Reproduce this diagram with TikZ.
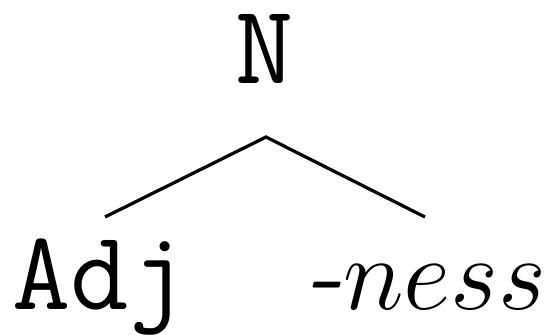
\documentclass[tikz,border=0pt]{standalone}
\begin{document}
\begin{tikzpicture}[x=0.2pt,y=-0.2pt,
  lbl/.style={inner sep=0pt, anchor=base, font=\fontsize{22.6}{26}\selectfont},
  branch/.style={line width=0.65pt}]
\useasboundingbox (0,0) rectangle (558,335);
\node[lbl] (n) at (265,83) {\texttt{N}};
\node[lbl] (adj) at (100,309) {\texttt{Adj}};
\node[lbl] (ness) at (425,309) {\textit{-}$ness$};
\coordinate (top) at (266,137);
\coordinate (lend) at (105,217);
\coordinate (rend) at (425,217);
\draw[branch] (lend) -- (top) -- (rend);
\end{tikzpicture}
\end{document}
